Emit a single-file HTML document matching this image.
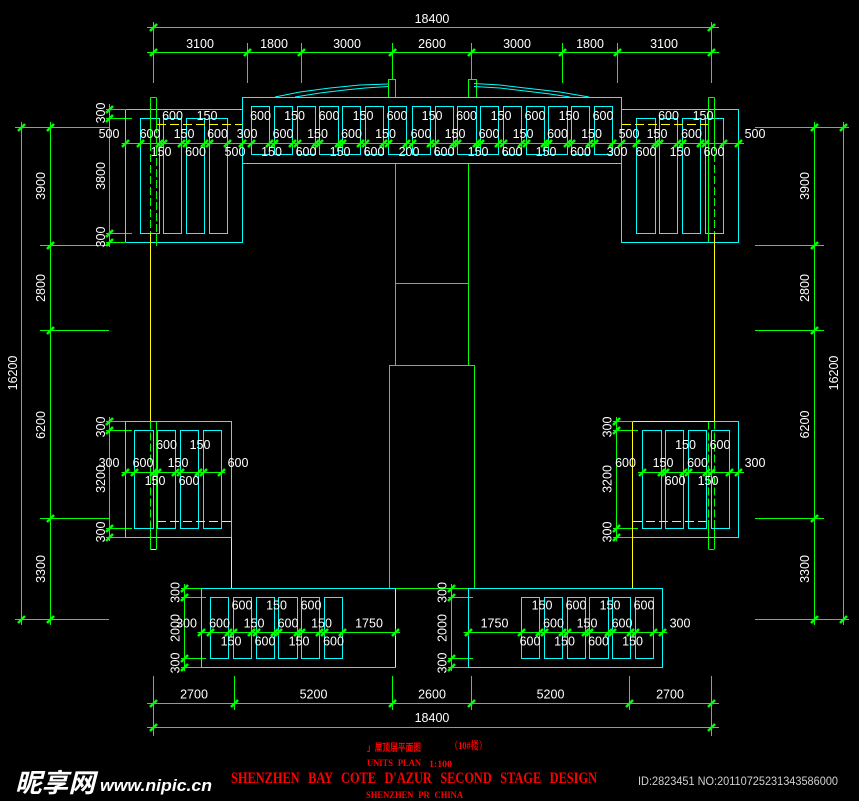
<!DOCTYPE html>
<html>
<head>
<meta charset="utf-8">
<style>
html,body{margin:0;padding:0;background:#000;width:859px;height:801px;overflow:hidden}
svg{display:block}
.g{stroke:#0f0;fill:none;stroke-width:1;shape-rendering:crispEdges}
.c{stroke:#0ff;fill:none;stroke-width:1;shape-rendering:crispEdges}
.y{stroke:#ff0;fill:none;stroke-width:1;shape-rendering:crispEdges}
.d{stroke:#0f0;fill:none;stroke-width:1;marker-start:url(#t);marker-mid:url(#t);marker-end:url(#t);shape-rendering:crispEdges}
.w{fill:#fff;font:12.5px "Liberation Sans",sans-serif;text-anchor:middle;dominant-baseline:central}
.r{fill:#f00;font-family:"Liberation Serif","Noto Serif CJK SC",serif;font-weight:bold}
</style>
</head>
<body>
<svg width="859" height="801" viewBox="0 0 859 801" xmlns="http://www.w3.org/2000/svg">
<defs>
<marker id="t" markerUnits="userSpaceOnUse" markerWidth="14" markerHeight="14" refX="7" refY="7" overflow="visible" orient="0">
<path d="M3.5 10.5L10.5 3.5" stroke="#0f0" stroke-width="2.6" fill="none"/>
<path d="M7 3.5V10.5M3.5 7H10.5" stroke="#0f0" stroke-width="1" fill="none"/>
</marker>
</defs>
<rect width="859" height="801" fill="#000"/>

<!-- top dims -->
<path class="g" d="M147 27.5H719M147 52.5H719M153.5 22V83M247.5 43V83M301.5 43V83M392.5 43V80M471.5 43V80M562.5 43V83M617.5 43V83M711.5 22V83"/>
<polyline class="d" points="153.5,27.5 711.5,27.5"/>
<polyline class="d" points="153.5,52.5 247.5,52.5 301.5,52.5 392.5,52.5 471.5,52.5 562.5,52.5 617.5,52.5 711.5,52.5"/>

<!-- bottom dims -->
<path class="g" d="M147 703.5H719M147 727.5H719M153.5 676V736M234.5 676V710M392.5 676V710M471.5 676V710M629.5 676V710M711.5 676V736"/>
<polyline class="d" points="153.5,703.5 234.5,703.5 392.5,703.5 471.5,703.5 629.5,703.5 711.5,703.5"/>
<polyline class="d" points="153.5,727.5 711.5,727.5"/>

<!-- outer left dims -->
<path class="g" d="M15 127.5H109M40 245.5H109M40 330.5H109M40 518.5H109M15 619.5H109M21.5 122V625M50.5 122V625"/>
<polyline class="d" points="21.5,127.5 21.5,619.5"/>
<polyline class="d" points="50.5,127.5 50.5,245.5 50.5,330.5 50.5,518.5 50.5,619.5"/>
<!-- outer right dims -->
<path class="g" d="M755 127.5H849M755 245.5H824M755 330.5H824M755 518.5H824M755 619.5H849M814.5 122V625M843.5 122V625"/>
<polyline class="d" points="814.5,127.5 814.5,245.5 814.5,330.5 814.5,518.5 814.5,619.5"/>
<polyline class="d" points="843.5,127.5 843.5,619.5"/>

<!-- centre structure -->
<path class="g" d="M395.5 164V365M468.5 164V365M395.5 283.5H468.5"/>
<rect class="g" x="389.5" y="365.5" width="85" height="223"/>
<rect class="g" x="388.5" y="79.5" width="7" height="18"/>
<rect class="g" x="468.5" y="79.5" width="8" height="18"/>
<polyline points="275,97 300,92 330,88 360,85 388,84" fill="none" stroke="#0ff" stroke-width="1"/>
<polyline points="295,97 320,93 345,90 365,88 388,86.5" fill="none" stroke="#0ff" stroke-width="1"/>
<polyline points="474,83.5 500,85 525,88 560,92 589,97" fill="none" stroke="#0ff" stroke-width="1"/>
<polyline points="474,86.5 500,88 525,91 550,94 570,97" fill="none" stroke="#0ff" stroke-width="1"/>

<!-- upper left wing -->
<path class="g" d="M109.5 104V247M107 118.5H132M107 233.5H132M107 109.5H125M107 242.5H125"/>
<polyline class="d" points="109.5,109.5 109.5,118.5 109.5,233.5 109.5,242.5"/>
<path class="c" d="M125.5 109.5H242.5M125.5 109.5V242.5M125.5 242.5H242.5V163.5"/>
<rect class="c" x="140.5" y="118.5" width="19" height="115"/>
<rect class="c" x="163.5" y="118.5" width="18" height="115"/>
<rect class="c" x="186.5" y="118.5" width="18" height="115"/>
<rect class="c" x="209.5" y="118.5" width="18" height="115"/>
<path class="y" stroke-dasharray="9 4" d="M157 124.5H242"/>

<!-- upper bar -->
<rect class="c" x="242.5" y="97.5" width="379" height="66"/>
<rect class="c" x="251.5" y="106.5" width="18" height="48"/>
<rect class="c" x="274.5" y="106.5" width="18" height="48"/>
<rect class="c" x="297.5" y="106.5" width="18" height="48"/>
<rect class="c" x="319.5" y="106.5" width="19" height="48"/>
<rect class="c" x="342.5" y="106.5" width="18" height="48"/>
<rect class="c" x="365.5" y="106.5" width="18" height="48"/>
<rect class="c" x="388.5" y="106.5" width="18" height="48"/>
<rect class="c" x="412.5" y="106.5" width="18" height="48"/>
<rect class="c" x="435.5" y="106.5" width="18" height="48"/>
<rect class="c" x="457.5" y="106.5" width="19" height="48"/>
<rect class="c" x="480.5" y="106.5" width="18" height="48"/>
<rect class="c" x="503.5" y="106.5" width="18" height="48"/>
<rect class="c" x="526.5" y="106.5" width="18" height="48"/>
<rect class="c" x="548.5" y="106.5" width="19" height="48"/>
<rect class="c" x="571.5" y="106.5" width="18" height="48"/>
<rect class="c" x="594.5" y="106.5" width="18" height="48"/>

<!-- upper right wing -->
<path class="c" d="M621.5 163.5V242.5H738.5V109.5H621.5"/>
<rect class="c" x="636.5" y="118.5" width="19" height="115"/>
<rect class="c" x="659.5" y="118.5" width="18" height="115"/>
<rect class="c" x="682.5" y="118.5" width="18" height="115"/>
<rect class="c" x="705.5" y="118.5" width="18" height="115"/>
<path class="y" stroke-dasharray="9 4" d="M622 124.5H708"/>

<!-- top row dim -->
<path class="g" d="M121.5 143.5H744"/>
<polyline class="d" points="125.5,143.5 140.5,143.5 159.5,143.5 163.5,143.5 181.5,143.5 186.5,143.5 204.5,143.5 209.5,143.5 227.5,143.5 242.5,143.5 251.5,143.5 269.5,143.5 274.5,143.5 292.5,143.5 297.5,143.5 315.5,143.5 319.5,143.5 338.5,143.5 342.5,143.5 360.5,143.5 365.5,143.5 383.5,143.5 388.5,143.5 406.5,143.5 412.5,143.5 430.5,143.5 435.5,143.5 453.5,143.5 457.5,143.5 476.5,143.5 480.5,143.5 498.5,143.5 503.5,143.5 521.5,143.5 526.5,143.5 544.5,143.5 548.5,143.5 567.5,143.5 571.5,143.5 589.5,143.5 594.5,143.5 612.5,143.5 621.5,143.5 636.5,143.5 655.5,143.5 659.5,143.5 677.5,143.5 682.5,143.5 700.5,143.5 705.5,143.5 723.5,143.5 738.5,143.5"/>

<!-- side columns left -->
<path class="g" d="M150.5 97.5H156.5M150.5 97.5V143M156.5 97.5V125M156.5 233V246"/>
<path class="g" stroke-dasharray="8 3" d="M150.5 143V233M156.5 125V233"/>
<path class="y" d="M150.5 233V421.5"/>
<path class="g" stroke-dasharray="8 3" d="M150.5 421.5V528"/>
<path class="g" d="M150.5 528V549M156.5 421.5V549"/>
<path class="y" d="M150.5 549.5H156.5"/>
<!-- side columns right -->
<path class="g" d="M708.5 97.5H714.5M708.5 97.5V242M714.5 97.5V143"/>
<path class="g" stroke-dasharray="8 3" d="M714.5 143V233"/>
<path class="y" d="M714.5 233V421.5"/>
<path class="g" stroke-dasharray="8 3" d="M714.5 421.5V520M708.5 421.5V520"/>
<path class="g" d="M714.5 520V549M708.5 520V549M708.5 549.5H714.5"/>

<!-- mid left block -->
<path class="g" d="M109.5 417V541M107 430.5H132M107 528.5H132M107 421.5H125M107 537.5H125M121.5 472.5H225"/>
<polyline class="d" points="109.5,421.5 109.5,430.5 109.5,528.5 109.5,537.5"/>
<path class="c" d="M125.5 421.5H231.5V537.5H125.5Z"/>
<rect class="c" x="134.5" y="430.5" width="19" height="98"/>
<rect class="c" x="157.5" y="430.5" width="18" height="98"/>
<rect class="c" x="180.5" y="430.5" width="18" height="98"/>
<rect class="c" x="203.5" y="430.5" width="18" height="98"/>
<polyline class="d" points="125.5,472.5 134.5,472.5 153.5,472.5 157.5,472.5 175.5,472.5 180.5,472.5 198.5,472.5 203.5,472.5 221.5,472.5"/>
<path class="y" stroke-dasharray="9 4" d="M157 521.5H231"/>
<path class="y" d="M231.5 537.5V588"/>

<!-- mid right block -->
<path class="g" d="M616.5 417V541M614 430.5H638M614 528.5H638M614 421.5H632M614 537.5H632M638 472.5H744"/>
<polyline class="d" points="616.5,421.5 616.5,430.5 616.5,528.5 616.5,537.5"/>
<path class="c" d="M714.5 421.5H738.5V537.5H632.5"/>
<path class="y" d="M632.5 421.5H714.5M632.5 421.5V588"/>
<rect class="c" x="642.5" y="430.5" width="19" height="98"/>
<rect class="c" x="665.5" y="430.5" width="18" height="98"/>
<rect class="c" x="688.5" y="430.5" width="18" height="98"/>
<rect class="c" x="711.5" y="430.5" width="18" height="98"/>
<polyline class="d" points="642.5,472.5 661.5,472.5 665.5,472.5 683.5,472.5 688.5,472.5 706.5,472.5 711.5,472.5 729.5,472.5 738.5,472.5"/>
<path class="y" stroke-dasharray="9 4" d="M633 521.5H708"/>

<!-- lower left block -->
<path class="g" d="M184.5 584V671M182 597.5H206M182 658.5H206M182 588.5H201M182 667.5H201M197.5 632.5H400"/>
<polyline class="d" points="184.5,588.5 184.5,597.5 184.5,658.5 184.5,667.5"/>
<path class="c" d="M395.5 588.5H201.5V667.5H395.5"/>
<path class="y" d="M395.5 588.5V667.5"/>
<rect class="c" x="210.5" y="597.5" width="18" height="61"/>
<rect class="c" x="233.5" y="597.5" width="18" height="61"/>
<rect class="c" x="256.5" y="597.5" width="18" height="61"/>
<rect class="c" x="278.5" y="597.5" width="19" height="61"/>
<rect class="c" x="301.5" y="597.5" width="18" height="61"/>
<rect class="c" x="324.5" y="597.5" width="18" height="61"/>
<polyline class="d" points="201.5,632.5 210.5,632.5 228.5,632.5 233.5,632.5 251.5,632.5 256.5,632.5 274.5,632.5 278.5,632.5 297.5,632.5 301.5,632.5 319.5,632.5 324.5,632.5 342.5,632.5 395.5,632.5"/>

<!-- lower right block -->
<path class="g" d="M451.5 584V671M449 597.5H473M449 658.5H473M430 588.5H468M449 667.5H468M463.5 632.5H667"/>
<polyline class="d" points="451.5,588.5 451.5,597.5 451.5,658.5 451.5,667.5"/>
<rect class="c" x="468.5" y="588.5" width="194" height="79"/>
<rect class="c" x="521.5" y="597.5" width="18" height="61"/>
<rect class="c" x="544.5" y="597.5" width="18" height="61"/>
<rect class="c" x="567.5" y="597.5" width="18" height="61"/>
<rect class="c" x="589.5" y="597.5" width="19" height="61"/>
<rect class="c" x="612.5" y="597.5" width="18" height="61"/>
<rect class="c" x="635.5" y="597.5" width="18" height="61"/>
<polyline class="d" points="468.5,632.5 521.5,632.5 539.5,632.5 544.5,632.5 562.5,632.5 567.5,632.5 585.5,632.5 589.5,632.5 608.5,632.5 612.5,632.5 630.5,632.5 635.5,632.5 653.5,632.5 662.5,632.5"/>

<!-- dimension text -->
<g class="w">
<text class="w" x="432" y="19">18400</text>
<text class="w" x="200" y="44">3100</text><text class="w" x="274" y="44">1800</text><text class="w" x="347" y="44">3000</text><text class="w" x="432" y="44">2600</text><text class="w" x="517" y="44">3000</text><text class="w" x="590" y="44">1800</text><text class="w" x="664" y="44">3100</text>
<text class="w" x="194" y="694.5">2700</text><text class="w" x="313.5" y="694.5">5200</text><text class="w" x="432" y="694.5">2600</text><text class="w" x="550.5" y="694.5">5200</text><text class="w" x="670" y="694.5">2700</text>
<text class="w" x="432" y="718">18400</text>

<text class="w" x="172.5" y="116">600</text><text class="w" x="207" y="116">150</text><text class="w" x="260.5" y="116">600</text><text class="w" x="294.5" y="116">150</text><text class="w" x="329" y="116">600</text><text class="w" x="363" y="116">150</text><text class="w" x="397" y="116">600</text><text class="w" x="432" y="116">150</text><text class="w" x="466.5" y="116">600</text><text class="w" x="501" y="116">150</text><text class="w" x="535" y="116">600</text><text class="w" x="569" y="116">150</text><text class="w" x="603" y="116">600</text><text class="w" x="668.5" y="116">600</text><text class="w" x="703" y="116">150</text>

<text class="w" x="109" y="134">500</text><text class="w" x="150" y="134">600</text><text class="w" x="184" y="134">150</text><text class="w" x="217.5" y="134">600</text><text class="w" x="247" y="134">300</text><text class="w" x="283" y="134">600</text><text class="w" x="317.5" y="134">150</text><text class="w" x="351.5" y="134">600</text><text class="w" x="385.5" y="134">150</text><text class="w" x="421" y="134">600</text><text class="w" x="455" y="134">150</text><text class="w" x="489" y="134">600</text><text class="w" x="523" y="134">150</text><text class="w" x="557.5" y="134">600</text><text class="w" x="591.5" y="134">150</text><text class="w" x="629" y="134">500</text><text class="w" x="657" y="134">150</text><text class="w" x="691.5" y="134">600</text><text class="w" x="755" y="134">500</text>

<text class="w" x="161" y="152">150</text><text class="w" x="195.5" y="152">600</text><text class="w" x="235" y="152">500</text><text class="w" x="271.5" y="152">150</text><text class="w" x="306" y="152">600</text><text class="w" x="340" y="152">150</text><text class="w" x="374" y="152">600</text><text class="w" x="409" y="152">200</text><text class="w" x="444" y="152">600</text><text class="w" x="478" y="152">150</text><text class="w" x="512" y="152">600</text><text class="w" x="546" y="152">150</text><text class="w" x="580.5" y="152">600</text><text class="w" x="617" y="152">300</text><text class="w" x="646" y="152">600</text><text class="w" x="680" y="152">150</text><text class="w" x="714" y="152">600</text>

<text class="w" x="166.5" y="445">600</text><text class="w" x="200" y="445">150</text>
<text class="w" x="109" y="463">300</text><text class="w" x="143" y="463">600</text><text class="w" x="178" y="463">150</text><text class="w" x="238" y="463">600</text>
<text class="w" x="155" y="481">150</text><text class="w" x="189" y="481">600</text>

<text class="w" x="685.5" y="445">150</text><text class="w" x="720" y="445">600</text>
<text class="w" x="625.5" y="463">600</text><text class="w" x="663" y="463">150</text><text class="w" x="697.5" y="463">600</text><text class="w" x="755" y="463">300</text>
<text class="w" x="675" y="481">600</text><text class="w" x="708" y="481">150</text>

<text class="w" x="242" y="605.5">600</text><text class="w" x="276.5" y="605.5">150</text><text class="w" x="311" y="605.5">600</text>
<text class="w" x="186.5" y="623.5">300</text><text class="w" x="219.5" y="623.5">600</text><text class="w" x="254" y="623.5">150</text><text class="w" x="288" y="623.5">600</text><text class="w" x="321.5" y="623.5">150</text><text class="w" x="369" y="623.5">1750</text>
<text class="w" x="231" y="641.5">150</text><text class="w" x="265" y="641.5">600</text><text class="w" x="299" y="641.5">150</text><text class="w" x="333.5" y="641.5">600</text>

<text class="w" x="542" y="605.5">150</text><text class="w" x="576" y="605.5">600</text><text class="w" x="610" y="605.5">150</text><text class="w" x="644" y="605.5">600</text>
<text class="w" x="494.5" y="623.5">1750</text><text class="w" x="553.5" y="623.5">600</text><text class="w" x="587" y="623.5">150</text><text class="w" x="622" y="623.5">600</text><text class="w" x="680" y="623.5">300</text>
<text class="w" x="530" y="641.5">600</text><text class="w" x="564.5" y="641.5">150</text><text class="w" x="598.5" y="641.5">600</text><text class="w" x="632.5" y="641.5">150</text>

<!-- rotated -->
<text class="w" transform="translate(101,113) rotate(-90)">300</text>
<text class="w" transform="translate(101,176) rotate(-90)">3800</text>
<text class="w" transform="translate(101,237) rotate(-90)">300</text>
<text class="w" transform="translate(101,427) rotate(-90)">300</text>
<text class="w" transform="translate(101,479) rotate(-90)">3200</text>
<text class="w" transform="translate(101,532) rotate(-90)">300</text>
<text class="w" transform="translate(607.5,427) rotate(-90)">300</text>
<text class="w" transform="translate(607.5,479) rotate(-90)">3200</text>
<text class="w" transform="translate(607.5,532) rotate(-90)">300</text>
<text class="w" transform="translate(175.5,592.5) rotate(-90)">300</text>
<text class="w" transform="translate(175.5,628) rotate(-90)">2000</text>
<text class="w" transform="translate(175.5,663) rotate(-90)">300</text>
<text class="w" transform="translate(442.5,592.5) rotate(-90)">300</text>
<text class="w" transform="translate(442.5,628) rotate(-90)">2000</text>
<text class="w" transform="translate(442.5,663) rotate(-90)">300</text>
<text class="w" transform="translate(41,186) rotate(-90)">3900</text>
<text class="w" transform="translate(41,288) rotate(-90)">2800</text>
<text class="w" transform="translate(41,425) rotate(-90)">6200</text>
<text class="w" transform="translate(41,569) rotate(-90)">3300</text>
<text class="w" transform="translate(13,373) rotate(-90)">16200</text>
<text class="w" transform="translate(805,186) rotate(-90)">3900</text>
<text class="w" transform="translate(805,288) rotate(-90)">2800</text>
<text class="w" transform="translate(805,424.5) rotate(-90)">6200</text>
<text class="w" transform="translate(805,569) rotate(-90)">3300</text>
<text class="w" transform="translate(834,373) rotate(-90)">16200</text>
</g>

<!-- title block -->
<text x="367" y="751" fill="#f00" font-family="'Noto Sans CJK SC',sans-serif" font-weight="bold" font-size="10" textLength="54" lengthAdjust="spacingAndGlyphs">」屋顶层平面图</text>
<text class="r" x="450" y="749" font-size="11" font-weight="normal" textLength="37" lengthAdjust="spacingAndGlyphs">（10#楼）</text>
<text class="r" x="367" y="766" font-size="9.5" word-spacing="3" textLength="54" lengthAdjust="spacingAndGlyphs">UNITS PLAN</text>
<text class="r" x="429" y="767" font-size="9.5" textLength="23" lengthAdjust="spacingAndGlyphs">1:100</text>
<text class="r" x="231" y="783" font-size="16" font-weight="normal" word-spacing="7" textLength="366" lengthAdjust="spacingAndGlyphs">SHENZHEN BAY COTE D'AZUR SECOND STAGE DESIGN</text>
<text class="r" x="366" y="798" font-size="9.5" word-spacing="3" textLength="97" lengthAdjust="spacingAndGlyphs">SHENZHEN PR CHINA</text>

<!-- watermark -->
<text x="15" y="792" fill="#fff" font-family="'Noto Sans CJK SC',sans-serif" font-weight="bold" font-style="italic" font-size="26" textLength="80" lengthAdjust="spacingAndGlyphs">昵享网</text>
<text x="100" y="791" fill="#fff" font-family="'Liberation Sans',sans-serif" font-weight="bold" font-style="italic" font-size="17" textLength="112" lengthAdjust="spacingAndGlyphs">www.nipic.cn</text>
<text x="638" y="785" fill="#d0d0d0" font-family="'Liberation Sans',sans-serif" font-size="12" textLength="200" lengthAdjust="spacingAndGlyphs">ID:2823451 NO:20110725231343586000</text>
</svg>
</body>
</html>
